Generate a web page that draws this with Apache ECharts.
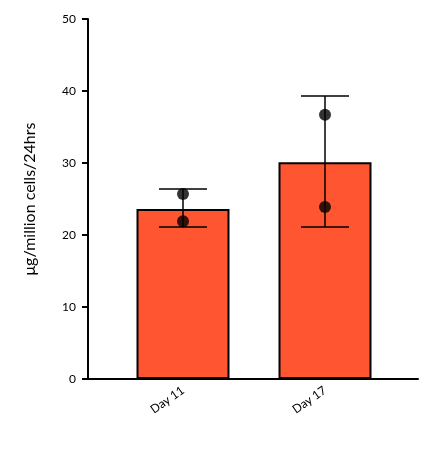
<!DOCTYPE html><html><head><meta charset="utf-8">
<script src="https://cdn.jsdelivr.net/npm/echarts@6/dist/echarts.min.js"></script>
<style>html,body{margin:0;padding:0;background:#fff}#c{width:436px;height:470px}</style></head><body><div id="c"></div>
<script>
const categories = ["Day 11", "Day 17"];
const means = [23.6, 30.1];
const errLow = [21.1, 21.1];
const errHigh = [26.4, 39.3];
const points = [[0, 25.7], [0, 21.9], [1, 36.7], [1, 23.9]];
const yTicks = [0, 10, 20, 30, 40, 50];

const chart = echarts.init(document.getElementById('c'));
const yMin = yTicks[0], yMax = yTicks[yTicks.length-1];
chart.setOption({
  animation: false,
  grid: [{left: 112, right: 40, top: 19, bottom: 91}, {left: 88, right: 18, top: 19, bottom: 91}],
  xAxis: [
    {type: 'category', data: categories, gridIndex: 0,
      axisLine: {show: false},
      axisTick: {alignWithLabel: true, length: 6, lineStyle: {color: '#000', width: 2}},
      axisLabel: {rotate: 35, color: '#000', fontSize: 12, fontFamily: 'Lato', margin: 10}},
    {type: 'value', gridIndex: 1, min: 0, max: 1, axisLine: {show: true, onZero: false, lineStyle: {color: '#000', width: 2}},
      axisTick: {show: false}, axisLabel: {show: false}, splitLine: {show: false}}
  ],
  yAxis: [
    {type: 'value', gridIndex: 0, min: yMin, max: yMax, interval: 10, show: false, splitLine: {show: false}},
    {type: 'value', gridIndex: 1, min: yMin, max: yMax, interval: 10,
      name: 'μg/million cells/24hrs', nameLocation: 'middle', nameGap: 50,
      nameTextStyle: {fontSize: 16, color: '#000', fontFamily: 'Lato'},
      splitLine: {show: false},
      axisLine: {show: true, lineStyle: {color: '#000', width: 2}},
      axisTick: {show: true, length: 6, lineStyle: {color: '#000', width: 2}},
      axisLabel: {color: '#000', fontSize: 12, fontFamily: 'Lato', margin: 12}}
  ],
  series: [
    {type: 'bar', data: means, barWidth: 93,
      itemStyle: {color: '#FF5530', borderColor: '#000', borderWidth: 2}},
    {type: 'custom', z: 5,
      data: categories.map((c, i) => [i, errLow[i], errHigh[i]]),
      renderItem: (params, api) => {
        const lo = api.coord([api.value(0), api.value(1)]);
        const hi = api.coord([api.value(0), api.value(2)]);
        const w = 24, st = {stroke: '#000', lineWidth: 1.5};
        return {type: 'group', children: [
          {type: 'line', shape: {x1: lo[0], y1: lo[1], x2: hi[0], y2: hi[1]}, style: st},
          {type: 'line', shape: {x1: lo[0]-w, y1: lo[1], x2: lo[0]+w, y2: lo[1]}, style: st},
          {type: 'line', shape: {x1: hi[0]-w, y1: hi[1], x2: hi[0]+w, y2: hi[1]}, style: st}
        ]};
      }},
    {type: 'scatter', z: 6, data: points, symbolSize: 12, itemStyle: {color: '#000'}}
  ]
});
</script></body></html>
